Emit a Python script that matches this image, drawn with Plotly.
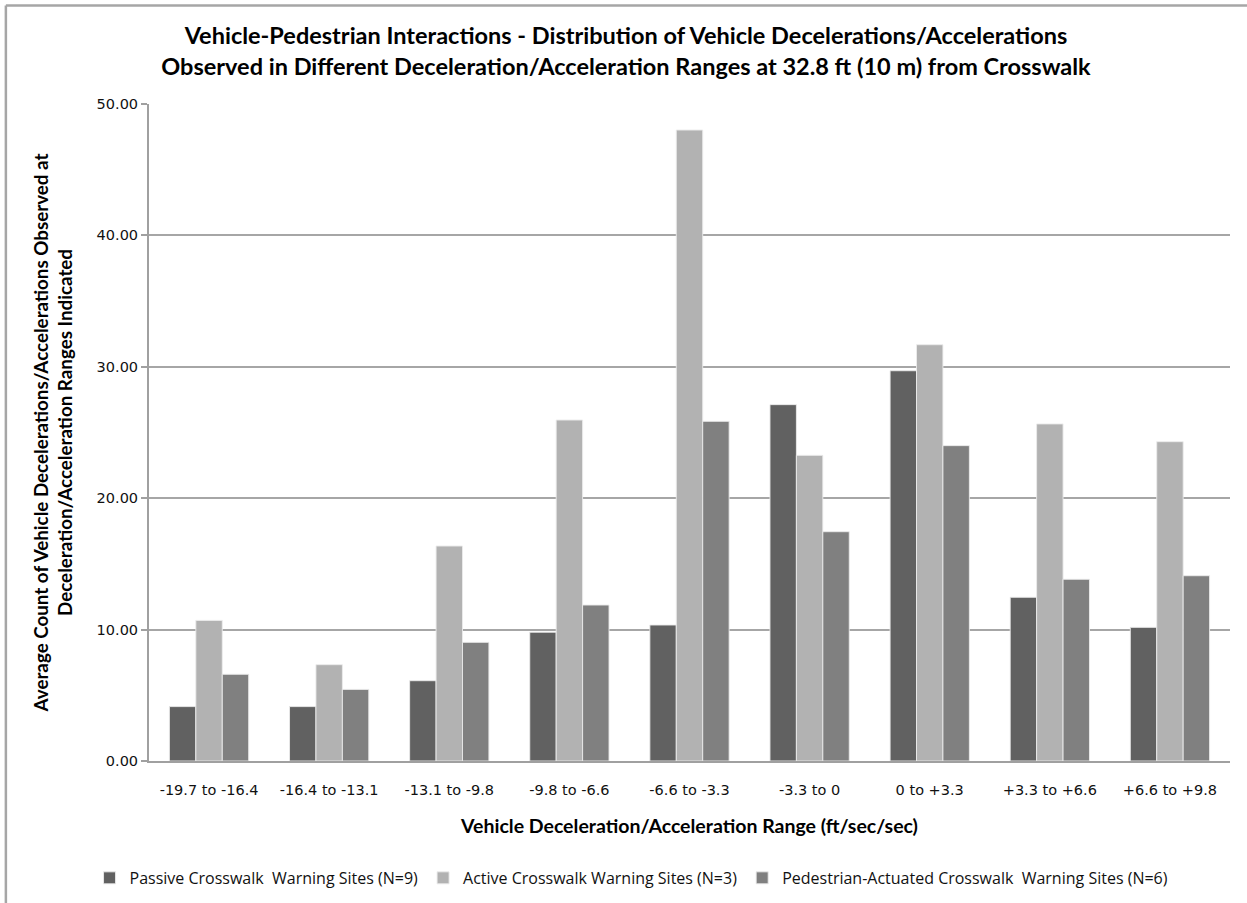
import plotly.graph_objects as go

# Deceleration/acceleration bins (ft/sec/sec)
ranges = ["-19.7 to -16.4", "-16.4 to -13.1", "-13.1 to -9.8", "-9.8 to -6.6",
          "-6.6 to -3.3", "-3.3 to 0", "0 to +3.3", "+3.3 to +6.6", "+6.6 to +9.8"]

# Average counts per site group
passive = [4.14, 4.14, 6.11, 9.80, 10.35, 27.12, 29.70, 12.46, 10.17]
active = [10.70, 7.33, 16.36, 25.95, 48.02, 23.26, 31.68, 25.65, 24.30]
ped_actuated = [6.60, 5.45, 9.03, 11.87, 25.85, 17.45, 24.00, 13.83, 14.10]

series_names = ["Passive Crosswalk  Warning Sites (N=9)",
                "Active Crosswalk Warning Sites (N=3)",
                "Pedestrian-Actuated Crosswalk  Warning Sites (N=6)"]
series_colors = ["#616161", "#b2b2b2", "#808080"]

y_ticks = [0, 10, 20, 30, 40, 50]

TEXT_FONT = "Lato, 'Open Sans', sans-serif"
TICK_FONT = "'DejaVu Sans', Verdana, sans-serif"

fig = go.Figure()
for name, vals, col in zip(series_names, [passive, active, ped_actuated], series_colors):
    fig.add_trace(go.Bar(
        x=ranges, y=vals, name=name,
        marker=dict(color=col, line=dict(color="rgba(235,235,235,0.9)", width=1)),
    ))

fig.update_layout(
    width=1247, height=903,
    margin=dict(l=149, r=17, t=104, b=142, autoexpand=False),
    paper_bgcolor="white", plot_bgcolor="white",
    barmode="group", bargap=0.34, bargroupgap=0,
    title=dict(
        text="Vehicle-Pedestrian Interactions - Distribution of Vehicle Decelerations/Accelerations"
             "<br>Observed in Different Deceleration/Acceleration Ranges at 32.8 ft (10 m) from Crosswalk",
        font=dict(family=TEXT_FONT, size=23.5, color="#000000", weight="bold"),
        x=0.502, xanchor="center", y=0.951, yanchor="middle",
    ),
    xaxis=dict(
        type="category", showline=True, linecolor="#a0a0a0", linewidth=2,
        ticks="", showgrid=False, ticklabelstandoff=15,
        tickfont=dict(family=TICK_FONT, size=14.5, color="#111111"),
        title=dict(text="Vehicle Deceleration/Acceleration Range (ft/sec/sec)",
                   font=dict(family=TEXT_FONT, size=19.5, color="#000000", weight="bold"),
                   standoff=22),
    ),
    yaxis=dict(
        range=[0, 50], tickvals=y_ticks, tickformat=".2f",
        showline=True, linecolor="#a0a0a0", linewidth=2,
        ticks="outside", ticklen=6, tickcolor="#a0a0a0", tickwidth=1.5,
        showgrid=True, gridcolor="#a6a6a6", gridwidth=1.5,
        zeroline=False,
        tickfont=dict(family=TICK_FONT, size=14.5, color="#111111"),
        title=dict(text="Average Count of Vehicle Decelerations/Accelerations Observed at"
                        "<br>Deceleration/Acceleration Ranges Indicated",
                   font=dict(family=TEXT_FONT, size=18.8, color="#000000", weight="bold"),
                   standoff=19),
    ),
    legend=dict(
        orientation="h", x=-0.055, xanchor="left", y=-0.178, yanchor="middle",
        font=dict(family="'Open Sans', sans-serif", size=16, color="#111111"),
        itemwidth=30, traceorder="normal", bgcolor="rgba(0,0,0,0)",
    ),
    shapes=[
        # chart frame (top and left edges)
        dict(type="line", xref="paper", yref="paper", x0=-0.1324, x1=1.02, y0=1.15, y1=1.15,
             line=dict(color="#a6a6a6", width=2.5)),
        dict(type="line", xref="paper", yref="paper", x0=-0.1324, x1=-0.1324, y0=1.15, y1=-0.25,
             line=dict(color="#a6a6a6", width=2.5)),
    ],
)

fig.write_html("out.html")
